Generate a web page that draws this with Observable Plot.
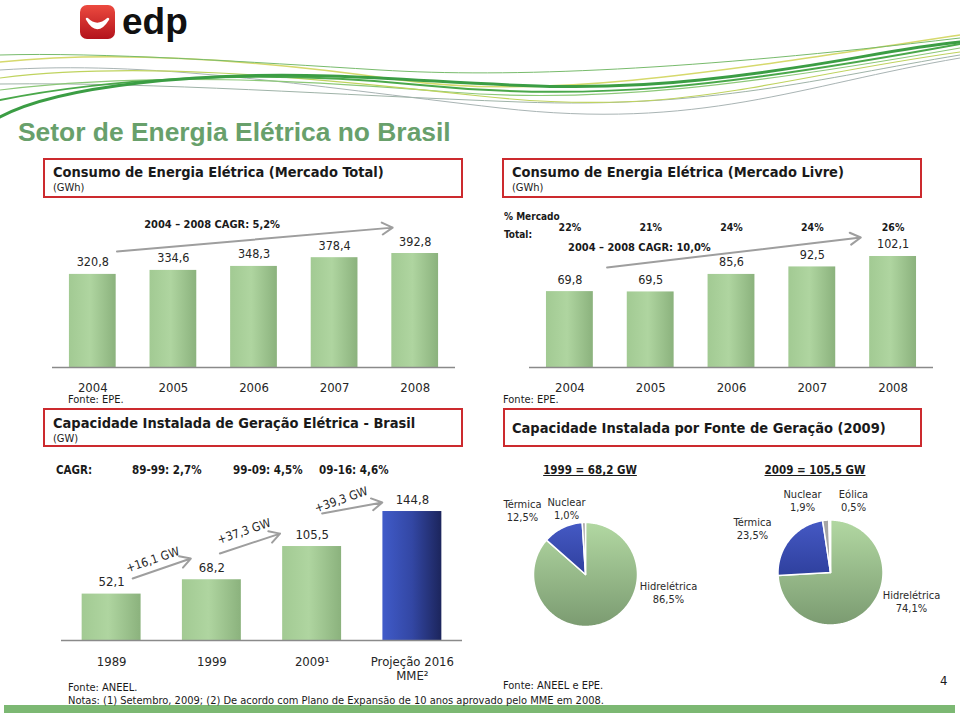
<!DOCTYPE html>
<html>
<head>
<meta charset="utf-8">
<script src="https://cdn.jsdelivr.net/npm/d3@7"></script>
<script src="https://cdn.jsdelivr.net/npm/@observablehq/plot@0.6"></script>
<style>
  html, body { margin: 0; padding: 0; background: #fff; }
  #page { position: relative; width: 960px; height: 716px; overflow: hidden; background: #fff;
          font-family: "DejaVu Sans Condensed", "DejaVu Sans", sans-serif; color: #1a1a1a; }
  .box { position: absolute; border: 2px solid #cc2a2e; box-sizing: border-box; }
  .chart { position: absolute; }
  .t { position: absolute; white-space: nowrap; }
</style>
</head>
<body>
<div id="page">
  <svg width="0" height="0" style="position:absolute">
    <defs>
      <linearGradient id="gBarGreen" x1="0" x2="1" y1="0" y2="0">
        <stop offset="0" stop-color="#a2ca93"/>
        <stop offset="0.45" stop-color="#afd5a0"/>
        <stop offset="1" stop-color="#8bb27d"/>
      </linearGradient>
      <linearGradient id="gBarBlue" x1="0" x2="1" y1="0" y2="0">
        <stop offset="0" stop-color="#405bc9"/>
        <stop offset="0.5" stop-color="#3347a4"/>
        <stop offset="1" stop-color="#1c255c"/>
      </linearGradient>
      <linearGradient id="gPieGreen" x1="0" x2="0" y1="0" y2="1">
        <stop offset="0" stop-color="#b2d8a2"/>
        <stop offset="1" stop-color="#7b9b71"/>
      </linearGradient>
      <linearGradient id="gPieBlue" x1="0" x2="0" y1="0" y2="1">
        <stop offset="0" stop-color="#4559c4"/>
        <stop offset="1" stop-color="#2f409e"/>
      </linearGradient>
    </defs>
  </svg>

  <!-- decorative swooshes -->
  <svg style="position:absolute;left:0;top:0" width="960" height="130">
    <g fill="none" stroke-linecap="round">
      <path d="M0,62 C120,50 260,60 400,80 S700,75 960,35" stroke="#d6d96c" stroke-width="1.5"/>
      <path d="M0,70 C150,60 300,85 500,108 S800,85 960,58" stroke="#a9b4b4" stroke-width="1"/>
      <path d="M0,84 C160,82 330,95 520,102 S820,78 960,55" stroke="#9fb3a8" stroke-width="1"/>
      <path d="M0,90 C150,72 300,80 450,92 S750,85 960,48" stroke="#8cc878" stroke-width="1.2"/>
      <path d="M0,78 C130,62 280,74 480,96 S760,80 960,52" stroke="#bfd35e" stroke-width="1.2"/>
      <path d="M0,55 C100,52 250,62 380,70 S690,70 960,38" stroke="#78bb6c" stroke-width="1"/>
      <path d="M0,100 C100,80 250,68 420,85 S720,88 960,44" stroke="#4aa84a" stroke-width="2"/>
      <path d="M0,117 C60,85 200,72 330,76 S560,95 700,80 S880,50 960,42" stroke="#3b9d44" stroke-width="3"/>
    </g>
  </svg>

  <!-- logo -->
  <div style="position:absolute;left:80px;top:5px;width:35px;height:34px;border-radius:7px;background:linear-gradient(#ec4a3f,#b3131c);"></div>
  <svg style="position:absolute;left:80px;top:5px" width="35" height="34">
    <path d="M7,14 Q17,32 28,14 Q17,24 7,14 Z" fill="#fff" stroke="#fff" stroke-width="2.5" stroke-linejoin="round"/>
  </svg>
  <div class="t" style="left:122px;top:6.5px;font-family:'Liberation Sans',Arial,sans-serif;font-weight:bold;font-size:37px;line-height:30px;color:#111;">edp</div>

  <!-- main title -->
  <div class="t" style="left:18px;top:119px;font-family:'Liberation Sans',Arial,sans-serif;font-weight:bold;font-size:26.4px;line-height:26px;color:#68a06b;">Setor de Energia Elétrica no Brasil</div>

  <!-- red boxes -->
  <div class="box" style="left:43px;top:158px;width:420px;height:40px;"></div>
  <div class="box" style="left:502px;top:158px;width:420px;height:40px;"></div>
  <div class="box" style="left:43px;top:408px;width:420px;height:39px;"></div>
  <div class="box" style="left:503px;top:408px;width:419px;height:39px;"></div>

  <div class="chart" id="c1" style="left:40px;top:200px;"></div>
  <div class="chart" id="c2" style="left:517px;top:200px;"></div>
  <div class="chart" id="c3" style="left:40px;top:480px;"></div>
  <div class="chart" id="c4" style="left:490px;top:480px;"></div>

  <div style="position:absolute;left:4px;top:705px;width:951px;height:8px;background:#7cb873;"></div>
</div>

<script>
// ---------------- DATA ----------------
const consumoYears = ["2004", "2005", "2006", "2007", "2008"];
const consumoTotal = [320.8, 334.6, 348.3, 378.4, 392.8];
const consumoLivre = [69.8, 69.5, 85.6, 92.5, 102.1];
const shareLivre = [22, 21, 24, 24, 26];
const cagrTotalLabel = "2004 – 2008 CAGR: 5,2%";
const cagrLivreLabel = "2004 – 2008 CAGR: 10,0%";

const capYears = ["1989", "1999", "2009¹", "Projeção 2016\nMME²"];
const capValues = [52.1, 68.2, 105.5, 144.8];
const capKinds = ["Real", "Real", "Real", "Projeção"];
const capGrowth = ["+16,1 GW", "+37,3 GW", "+39,3 GW"];
const cagrPeriods = ["89-99: 2,7%", "99-09: 4,5%", "09-16: 4,6%"];

const pieSources1999 = ["Hidrelétrica", "Térmica", "Nuclear"];
const pieValues1999 = [86.5, 12.5, 1.0];
const pieSources2009 = ["Hidrelétrica", "Térmica", "Nuclear", "Eólica"];
const pieValues2009 = [74.1, 23.5, 1.9, 0.5];

// ---------------- HELPERS ----------------
const FONT = '"DejaVu Sans Condensed", "DejaVu Sans", sans-serif';
const fmt = v => v.toFixed(1).replace(".", ",");
const page = document.getElementById("page");
function addText(txt, x, cy, o = {}) {
  const size = o.size || 11;
  const lh = o.lh || size;
  const d = document.createElement("div");
  d.className = "t";
  d.textContent = txt;
  d.style.fontSize = size + "px";
  d.style.lineHeight = lh + "px";
  d.style.top = (cy - lh / 2) + "px";
  d.style.left = x + "px";
  d.style.fontWeight = o.bold ? "bold" : "normal";
  d.style.color = o.color || "#1a1a1a";
  if (o.underline) d.style.textDecoration = "underline";
  if (o.anchor === "middle") d.style.transform = "translateX(-50%)";
  page.appendChild(d);
}

// ---------------- HTML TEXT ----------------
addText("Consumo de Energia Elétrica (Mercado Total)", 53, 172, {size: 14.5, bold: true});
addText("(GWh)", 53, 187, {size: 11});
addText("Consumo de Energia Elétrica (Mercado Livre)", 512, 172, {size: 14.5, bold: true});
addText("(GWh)", 512, 187, {size: 11});
addText("% Mercado", 504, 217, {size: 10, bold: true});
addText("Total:", 504, 235, {size: 10, bold: true});
addText("Fonte: EPE.", 68, 399.5, {size: 11, lh: 7});
addText("Fonte: EPE.", 503, 399.5, {size: 11, lh: 7});
addText("Capacidade Instalada de Geração Elétrica - Brasil", 53, 423, {size: 14.5, bold: true});
addText("(GW)", 53, 438, {size: 11});
addText("Capacidade Instalada por Fonte de Geração (2009)", 512, 428, {size: 14.5, bold: true});
addText("CAGR:", 56, 471, {size: 11.5, bold: true});
[132, 233, 319].forEach((x, i) => addText(cagrPeriods[i], x, 471, {size: 11.5, bold: true}));
addText("1999 = 68,2 GW", 590, 471, {size: 11.5, bold: true, underline: true, anchor: "middle"});
addText("2009 = 105,5 GW", 815, 471, {size: 11.5, bold: true, underline: true, anchor: "middle"});
addText("Fonte: ANEEL.", 68, 687, {size: 11, lh: 9});
addText("Notas: (1) Setembro, 2009; (2) De acordo com Plano de Expansão de 10 anos aprovado pelo MME em 2008.", 68, 700, {size: 11, lh: 9});
addText("Fonte: ANEEL e EPE.", 503, 685, {size: 11, lh: 9});
addText("4", 940, 680, {size: 13});

const ink = "#262626";
const barHalf = 0.29;

// ---------------- CHART 1: Mercado Total ----------------
const cagr1 = [{x1: 0.30, y1: 400, x2: 3.72, y2: 482, tx: 1.48, ty: 493, label: cagrTotalLabel}];
const c1 = Plot.plot({
  width: 430, height: 200, marginLeft: 12, marginRight: 15, marginTop: 10, marginBottom: 33,
  x: {domain: [-0.5, consumoYears.length - 0.5], axis: null},
  y: {domain: [0, 541], axis: null},
  style: {fontFamily: FONT, background: "transparent", overflow: "visible"},
  marks: [
    Plot.rect(consumoTotal, {x1: (d, i) => i - barHalf, x2: (d, i) => i + barHalf, y1: 0, y2: d => d, fill: "url(#gBarGreen)"}),
    Plot.ruleY([0], {stroke: "#8a8a8a", strokeWidth: 1.5}),
    Plot.text(consumoTotal, {x: (d, i) => i, y: d => d, dy: -12, text: d => fmt(d), fontSize: 12.5, fill: ink}),
    Plot.text(consumoYears, {x: (d, i) => i, frameAnchor: "bottom", lineAnchor: "top", dy: 15, text: d => d, fontSize: 13, fill: ink}),
    Plot.arrow(cagr1, {x1: "x1", y1: "y1", x2: "x2", y2: "y2", stroke: "#9e9e9e", strokeWidth: 2, headLength: 9}),
    Plot.text(cagr1, {x: "tx", y: "ty", text: "label", fontWeight: "bold", fontSize: 11, fill: "#1a1a1a"})
  ]
});
document.getElementById("c1").appendChild(c1);

// ---------------- CHART 2: Mercado Livre ----------------
const cagr2 = [{x1: 0.46, y1: 92, x2: 3.60, y2: 119.6, tx: 0.86, ty: 110.4, label: cagrLivreLabel}];
const c2 = Plot.plot({
  width: 430, height: 200, marginLeft: 12, marginRight: 14, marginTop: 10, marginBottom: 33,
  x: {domain: [-0.5, consumoYears.length - 0.5], axis: null},
  y: {domain: [0, 144.4], axis: null},
  style: {fontFamily: FONT, background: "transparent", overflow: "visible"},
  marks: [
    Plot.rect(consumoLivre, {x1: (d, i) => i - barHalf, x2: (d, i) => i + barHalf, y1: 0, y2: d => d, fill: "url(#gBarGreen)"}),
    Plot.ruleY([0], {stroke: "#8a8a8a", strokeWidth: 1.5}),
    Plot.text(consumoLivre, {x: (d, i) => i, y: d => d, dy: -12, text: d => fmt(d), fontSize: 12.5, fill: ink}),
    Plot.text(shareLivre, {x: (d, i) => i, frameAnchor: "top", dy: 13, text: d => d + "%", fontWeight: "bold", fontSize: 10.5, fill: "#1a1a1a"}),
    Plot.text(consumoYears, {x: (d, i) => i, frameAnchor: "bottom", lineAnchor: "top", dy: 15, text: d => d, fontSize: 13, fill: ink}),
    Plot.arrow(cagr2, {x1: "x1", y1: "y1", x2: "x2", y2: "y2", stroke: "#9e9e9e", strokeWidth: 2, headLength: 9}),
    Plot.text(cagr2, {x: "tx", y: "ty", text: "label", fontWeight: "bold", fontSize: 11, fill: "#1a1a1a"})
  ]
});
document.getElementById("c2").appendChild(c2);

// ---------------- CHART 3: Capacidade Instalada ----------------
const growthArrows = [
  {x1: 0.21, y1: 69.6, x2: 0.79, y2: 92.0, tx: 0.41, ty: 90.5},
  {x1: 1.08, y1: 97.7, x2: 1.68, y2: 120.0, tx: 1.32, ty: 122.5},
  {x1: 2.10, y1: 142.6, x2: 2.70, y2: 155.0, tx: 2.29, ty: 158.0}
].map((a, i) => ({...a, label: capGrowth[i]}));
const capHalf = 0.294;
const c3 = Plot.plot({
  width: 430, height: 200, marginLeft: 21, marginRight: 8, marginTop: 10, marginBottom: 40,
  x: {domain: [-0.5, capYears.length - 0.5], axis: null},
  y: {domain: [0, 168.4], axis: null},
  color: {domain: ["Real", "Projeção"], range: ["url(#gBarGreen)", "url(#gBarBlue)"]},
  style: {fontFamily: FONT, background: "transparent", overflow: "visible"},
  marks: [
    Plot.rect(capValues, {x1: (d, i) => i - capHalf, x2: (d, i) => i + capHalf, y1: 0, y2: d => d, fill: (d, i) => capKinds[i]}),
    Plot.ruleY([0], {stroke: "#8a8a8a", strokeWidth: 1.5}),
    Plot.text(capValues, {x: (d, i) => i, y: d => d, dy: -12, text: d => fmt(d), fontSize: 13, fill: ink}),
    Plot.text(capYears, {x: (d, i) => i, frameAnchor: "bottom", lineAnchor: "top", dy: 15, text: d => d, fontSize: 13, lineHeight: 1.1, fill: ink}),
    Plot.arrow(growthArrows, {x1: "x1", y1: "y1", x2: "x2", y2: "y2", stroke: "#9e9e9e", strokeWidth: 2, headLength: 9}),
    Plot.text(growthArrows, {x: "tx", y: "ty", text: "label", rotate: -19, fontSize: 12, fill: ink})
  ]
});
document.getElementById("c3").appendChild(c3);

// ---------------- CHART 4: Pies ----------------
function pieSlices(sources, values, cx, cy, r) {
  const arcs = d3.pie().sort(null)(values);
  return arcs.map((a, i) => {
    const pts = [[cx, cy]];
    const n = Math.max(2, Math.ceil((a.endAngle - a.startAngle) / (Math.PI / 180)));
    for (let k = 0; k <= n; k++) {
      const t = a.startAngle + (a.endAngle - a.startAngle) * k / n;
      pts.push([cx + r * Math.sin(t), cy - r * Math.cos(t)]);
    }
    pts.push([cx, cy]);
    return {type: "Feature", properties: {source: sources[i]}, geometry: {type: "Polygon", coordinates: [pts]}};
  });
}
const PW = 470, PH = 160;
const pie1 = {cx: 95, cy: 94, r: 52};
const pie2 = {cx: 340, cy: 92, r: 52.5};
const features = [
  ...pieSlices(pieSources1999, pieValues1999, pie1.cx, pie1.cy, pie1.r),
  ...pieSlices(pieSources2009, pieValues2009, pie2.cx, pie2.cy, pie2.r)
];
const labelPos1999 = [[178, 112], [32, 30], [76, 28]];
const labelPos2009 = [[421, 121], [262, 48], [312, 20], [363, 20]];
const pieLabels = [
  ...pieSources1999.map((s, i) => ({text: s + "\n" + fmt(pieValues1999[i]) + "%", x: labelPos1999[i][0], y: labelPos1999[i][1]})),
  ...pieSources2009.map((s, i) => ({text: s + "\n" + fmt(pieValues2009[i]) + "%", x: labelPos2009[i][0], y: labelPos2009[i][1]}))
];
const frameRect = {type: "Polygon", coordinates: [[[0, 0], [0, PH], [PW, PH], [PW, 0], [0, 0]]]};
const c4 = Plot.plot({
  width: PW, height: PH, margin: 0,
  projection: {type: "identity", domain: frameRect},
  color: {domain: ["Hidrelétrica", "Térmica", "Nuclear", "Eólica"], range: ["url(#gPieGreen)", "url(#gPieBlue)", "#a5a5a5", "#d3e6cb"]},
  style: {fontFamily: FONT, background: "transparent", overflow: "visible"},
  marks: [
    Plot.geo(features, {fill: d => d.properties.source, stroke: "#fff", strokeWidth: 1.5}),
    Plot.text(pieLabels, {x: "x", y: "y", text: "text", fontSize: 11, lineHeight: 1.12, fill: "#2a2a2a"})
  ]
});
document.getElementById("c4").appendChild(c4);
</script>
</body>
</html>
